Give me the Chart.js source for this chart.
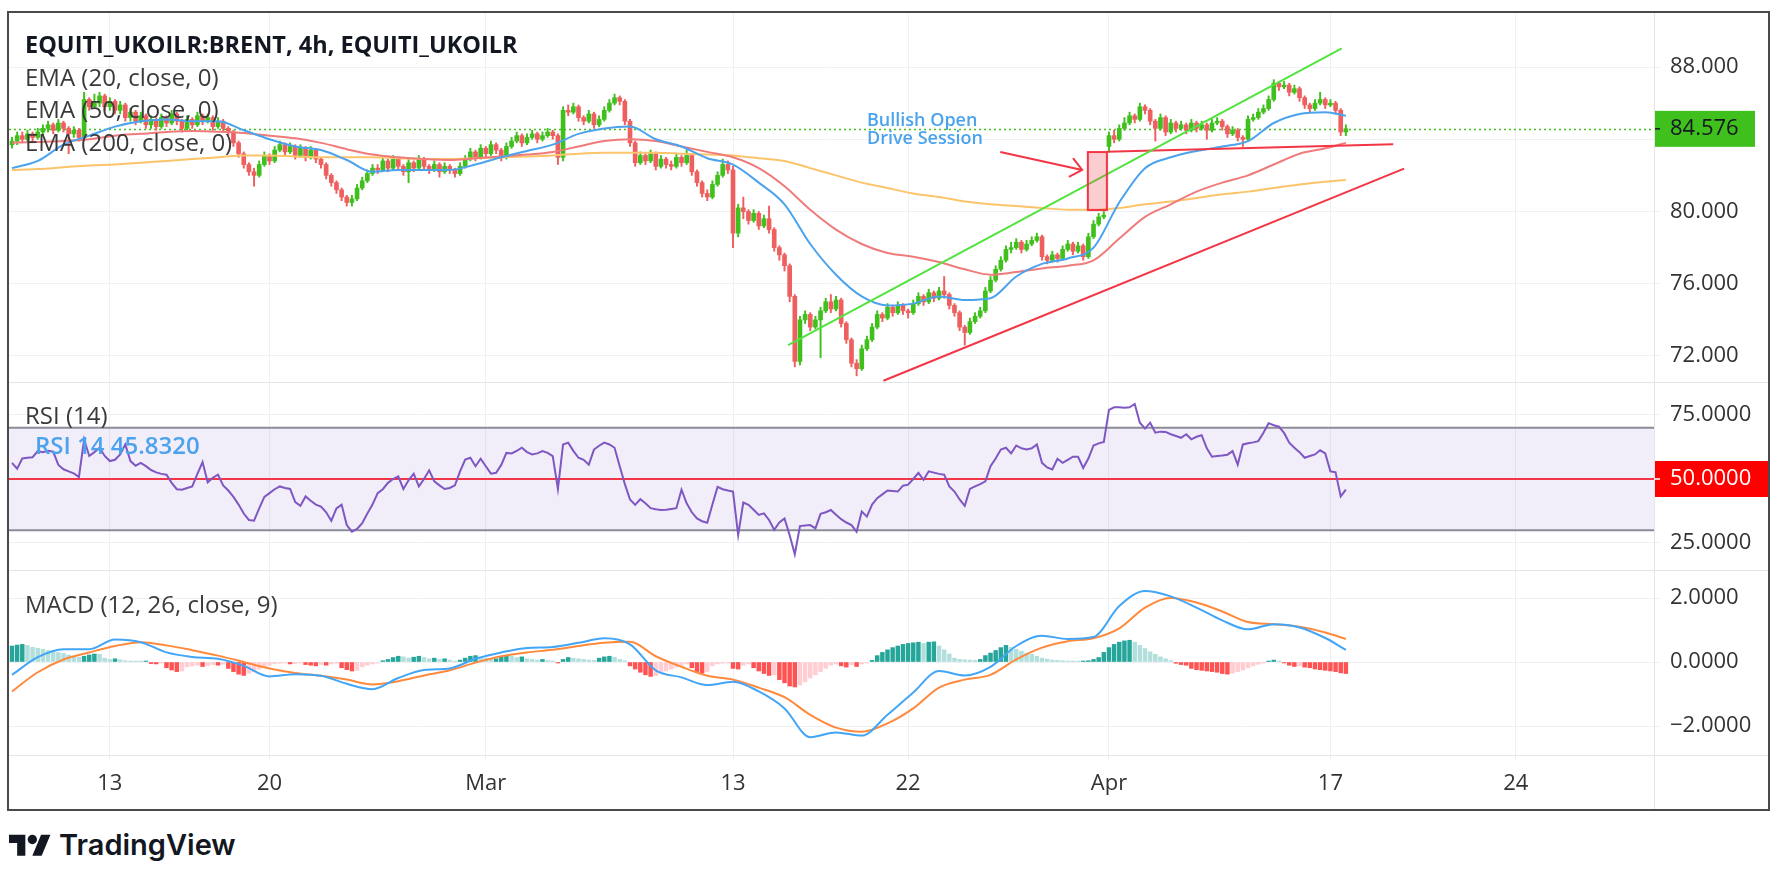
<!DOCTYPE html>
<html>
<head>
<meta charset="utf-8">
<script src="https://cdn.jsdelivr.net/npm/chart.js@4.4.0/dist/chart.umd.min.js"></script>
<style>
  html, body { margin: 0; padding: 0; background: #fff; }
  body { width: 1778px; height: 882px; position: relative; overflow: hidden; font-family: "Open Sans", sans-serif; }
  #frame { position: absolute; left: 7px; top: 11px; width: 1763px; height: 800px; border: 2px solid #4a4a4a; box-sizing: border-box; }
  canvas { position: absolute; }
  .sep { position: absolute; background: #e3e5ea; }
  .lbl { position: absolute; white-space: nowrap; font-size: 24px; line-height: 24px; color: #3a3a3a; }
</style>
</head>
<body>
<div id="frame"></div>
<canvas id="cPrice" width="1759" height="369" style="left:9px;top:13px"></canvas>
<canvas id="cRsi" width="1759" height="187" style="left:9px;top:383px"></canvas>
<canvas id="cMacd" width="1759" height="238" style="left:9px;top:571px"></canvas>
<div class="sep" style="left:9px;top:382px;width:1759px;height:1px"></div>
<div class="sep" style="left:9px;top:570px;width:1759px;height:1px"></div>
<div class="sep" style="left:9px;top:755px;width:1759px;height:1px"></div>
<div class="sep" style="left:1654px;top:13px;width:1px;height:796px"></div>

<div class="lbl" style="left:25px;top:32px;font-weight:700;color:#131722;font-size:23.5px">EQUITI_UKOILR:BRENT, 4h, EQUITI_UKOILR</div>
<div class="lbl" style="left:25px;top:65px">EMA (20, close, 0)</div>
<div class="lbl" style="left:25px;top:97px">EMA (50, close, 0)</div>
<div class="lbl" style="left:25px;top:130px">EMA (200, close, 0)</div>
<div class="lbl" style="left:25px;top:403px">RSI (14)</div>
<div class="lbl" style="left:35px;top:433px;color:#4ba3ee;font-weight:600">RSI 14 45.8320</div>
<div class="lbl" style="left:25px;top:592px">MACD (12, 26, close, 9)</div>
<div class="lbl" style="left:867px;top:110px;font-size:18px;line-height:18px;font-weight:600;color:#4ba3ee">Bullish Open<br>Drive Session</div>

<svg style="position:absolute;left:9px;top:830px" width="42" height="33" viewBox="0 0 36 28">
  <path fill="#131722" d="M14 22H7V11H0V4h14v18zM28 22h-8l7.5-18h8L28 22z"/>
  <circle fill="#131722" cx="20" cy="8" r="4"/>
</svg>
<div class="lbl" style="left:59px;top:828px;font-family:Inter,sans-serif;font-weight:600;font-size:29px;line-height:34px;color:#131722">TradingView</div>

<script>
// ---- axis data ----
const xTickIdx = [19, 50, 92, 140, 174, 213, 256, 292];
const xTickLabels = ['13', '20', 'Mar', '13', '22', 'Apr', '17', '24'];
const priceTicks = [72, 76, 80, 84, 88];
const rsiTicks = [25, 50, 75];
const macdTicks = [-2, 0, 2];
const lastPrice = 84.576;

// ---- 4h candles ----
const opens = [
83.7,83.9,84.2,84.0,84.3,84.1,84.4,84.6,84.8,84.5,
84.9,84.6,84.3,84.5,84.1,86.2,85.8,86.0,86.4,85.8,
86.1,85.6,85.9,85.2,85.5,85.0,85.3,84.8,85.1,84.7,
85.2,84.9,85.4,85.0,84.6,85.1,84.8,85.3,85.0,85.2,
84.7,85.0,84.6,84.4,83.8,83.2,82.6,82.2,82.0,82.6,
83.1,82.8,83.4,83.7,83.3,83.6,83.1,83.5,83.0,83.4,
82.9,82.6,82.0,81.6,81.2,80.8,80.5,80.7,81.3,81.7,
82.1,82.4,82.3,82.8,82.4,82.9,82.5,82.2,82.7,82.4,
82.9,82.5,82.3,82.6,82.2,82.5,82.3,82.1,82.5,82.9,
83.3,83.0,83.5,83.2,83.7,83.4,83.0,83.6,83.9,84.2,
83.8,84.1,84.3,84.0,84.2,84.4,84.2,83.0,85.6,85.5,
85.8,85.2,85.0,85.4,84.8,85.1,85.6,86.0,86.3,86.1,
85.0,83.8,82.7,83.1,82.8,83.2,82.5,82.9,82.6,82.5,
83.0,82.7,83.1,82.2,81.6,81.0,80.8,81.5,82.0,82.6,
82.3,78.8,80.2,80.0,79.5,79.9,79.2,79.6,79.0,78.0,
77.6,77.0,75.3,71.7,74.0,74.3,73.6,74.0,74.5,75.0,
74.6,75.1,73.8,72.9,71.6,71.3,72.4,72.9,73.6,74.3,
74.1,74.7,74.4,74.8,74.5,74.4,74.9,75.3,75.0,75.5,
75.2,75.6,75.4,74.8,74.4,73.6,73.3,73.9,74.2,74.5,
75.6,76.2,76.8,77.3,77.9,78.0,78.3,77.9,78.2,78.4,
78.6,77.5,77.3,77.6,77.4,77.9,78.2,77.8,78.1,77.5,
78.6,79.3,79.7,83.6,84.2,84.0,84.6,84.9,85.3,85.1,
85.8,85.6,85.0,84.6,85.2,84.4,84.9,84.6,84.8,84.5,
84.9,84.6,84.8,84.5,84.9,85.0,84.7,84.3,84.5,84.1,
84.0,85.1,85.2,85.5,85.7,86.2,87.1,86.9,87.0,86.6,
86.8,86.3,85.9,85.7,86.0,86.2,85.9,86.0,85.6,84.4
];
const highs = [
84.1,84.4,84.4,84.5,84.4,84.6,84.8,85.0,84.9,85.1,
85.0,84.7,84.7,84.6,86.6,86.3,86.5,86.6,86.5,86.3,
86.2,86.1,86.0,85.7,85.6,85.5,85.4,85.3,85.2,85.4,
85.3,85.6,85.5,85.1,85.3,85.2,85.5,85.4,85.4,85.3,
85.2,85.1,84.7,84.5,83.9,83.3,82.7,82.4,82.8,83.3,
83.2,83.6,83.9,83.8,83.8,83.7,83.7,83.6,83.6,83.5,
83.0,82.7,82.1,81.7,81.3,80.9,80.9,81.5,81.9,82.3,
82.6,82.6,83.0,82.9,83.1,83.0,82.6,82.9,82.8,83.1,
83.0,82.6,82.8,82.7,82.7,82.6,82.4,82.7,83.1,83.5,
83.4,83.7,83.6,83.9,83.8,83.5,83.8,84.1,84.4,84.3,
84.3,84.5,84.4,84.4,84.6,84.5,84.3,85.8,85.9,86.0,
85.9,85.3,85.6,85.5,85.3,85.8,86.2,86.5,86.4,86.2,
85.1,83.9,83.3,83.2,83.4,83.3,83.1,83.0,82.8,83.2,
83.1,83.4,83.2,82.3,81.7,81.2,81.7,82.2,82.9,82.8,
82.5,80.4,80.8,80.1,80.1,80.0,79.8,80.3,79.1,78.1,
77.7,77.1,75.4,74.2,74.5,74.4,74.2,74.7,75.2,75.4,
75.3,75.2,73.9,73.0,71.8,72.6,73.1,73.8,74.5,74.4,
74.9,74.8,75.0,74.9,74.6,75.1,75.5,75.4,75.7,75.6,
75.8,76.4,75.5,74.9,74.5,73.7,74.1,74.4,74.7,75.8,
76.4,77.0,77.5,78.1,78.3,78.5,78.4,78.4,78.6,78.8,
78.7,77.6,77.8,77.7,78.1,78.4,78.3,78.3,78.2,78.8,
79.5,79.9,80.0,84.4,84.5,84.8,85.2,85.5,85.4,86.0,
85.9,85.7,85.1,85.4,85.3,85.1,85.0,85.0,84.9,85.1,
85.0,85.0,84.9,85.1,85.2,85.1,84.8,84.7,84.6,84.2,
85.3,85.4,85.7,85.9,86.4,87.3,87.2,87.2,87.1,87.0,
86.9,86.4,86.0,86.2,86.6,86.3,86.2,86.1,85.7,84.8
];
const lows = [
83.5,83.7,83.8,83.9,83.9,84.0,84.2,84.4,84.3,84.4,
84.4,83.2,84.1,83.9,84.0,85.6,85.7,85.8,85.6,85.6,
85.4,85.4,85.0,85.0,84.8,84.9,84.6,84.6,84.5,84.6,
84.7,84.8,84.8,84.4,84.5,84.6,84.7,84.8,84.9,84.5,
84.6,84.4,84.2,83.6,83.0,82.4,82.0,81.4,81.9,82.5,
82.6,82.7,83.3,83.1,83.2,82.9,83.0,82.8,82.9,82.7,
82.4,81.8,81.4,81.0,80.6,80.3,80.3,80.6,81.2,81.6,
82.0,82.1,82.2,82.2,82.3,82.3,82.0,81.6,82.2,82.3,
82.3,82.1,82.2,81.9,82.1,82.1,81.9,82.0,82.4,82.8,
82.8,82.9,83.0,83.1,83.2,82.8,82.9,83.5,83.8,83.6,
83.7,84.0,83.8,83.9,84.1,84.0,82.6,82.8,85.3,85.4,
85.0,84.8,84.9,84.6,84.7,85.0,85.5,85.9,85.9,84.8,
83.6,82.5,82.6,82.6,82.7,82.3,82.4,82.4,82.3,82.4,
82.5,82.6,82.0,81.4,80.8,80.6,80.7,81.4,81.9,82.1,
78.0,78.6,79.6,79.3,79.4,79.0,79.1,78.8,77.8,77.3,
76.7,75.0,71.4,71.5,73.8,73.4,73.5,71.9,74.4,74.4,
74.5,73.6,72.7,71.4,70.9,71.2,72.3,72.8,73.5,73.9,
74.0,74.2,74.3,74.3,74.1,74.3,74.8,74.8,74.9,75.0,
75.1,75.2,74.6,74.2,73.4,72.6,73.2,73.8,74.1,74.4,
75.5,76.1,76.7,77.2,77.7,77.9,77.7,77.8,78.1,78.3,
77.3,77.1,77.2,77.2,77.3,77.8,77.6,77.7,77.3,77.4,
78.5,79.2,79.6,83.3,83.8,83.9,84.5,84.8,84.9,85.0,
85.4,84.8,83.9,84.5,84.2,84.3,84.4,84.5,84.3,84.4,
84.4,84.5,84.0,84.4,84.8,84.5,84.1,84.2,83.9,83.6,
83.9,85.0,85.1,85.4,85.6,86.1,86.7,86.8,86.4,86.5,
86.1,85.7,85.5,85.6,85.9,85.7,85.8,85.4,84.2,84.2
];
const closes = [
83.9,84.2,84.0,84.3,84.1,84.4,84.6,84.8,84.5,84.9,
84.6,84.3,84.5,84.1,86.2,85.8,86.0,86.4,85.8,86.1,
85.6,85.9,85.2,85.5,85.0,85.3,84.8,85.1,84.7,85.2,
84.9,85.4,85.0,84.6,85.1,84.8,85.3,85.0,85.2,84.7,
85.0,84.6,84.4,83.8,83.2,82.6,82.2,82.0,82.6,83.1,
82.8,83.4,83.7,83.3,83.6,83.1,83.5,83.0,83.4,82.9,
82.6,82.0,81.6,81.2,80.8,80.5,80.7,81.3,81.7,82.1,
82.4,82.3,82.8,82.4,82.9,82.5,82.2,82.7,82.4,82.9,
82.5,82.3,82.6,82.2,82.5,82.3,82.1,82.5,82.9,83.3,
83.0,83.5,83.2,83.7,83.4,83.0,83.6,83.9,84.2,83.8,
84.1,84.3,84.0,84.2,84.4,84.2,83.0,85.6,85.5,85.8,
85.2,85.0,85.4,84.8,85.1,85.6,86.0,86.3,86.1,85.0,
83.8,82.7,83.1,82.8,83.2,82.5,82.9,82.6,82.5,83.0,
82.7,83.1,82.2,81.6,81.0,80.8,81.5,82.0,82.6,82.3,
78.8,80.2,80.0,79.5,79.9,79.2,79.6,79.0,78.0,77.6,
77.0,75.3,71.7,74.0,74.3,73.6,74.0,74.5,75.0,74.6,
75.1,73.8,72.9,71.6,71.3,72.4,72.9,73.6,74.3,74.1,
74.7,74.4,74.8,74.5,74.4,74.9,75.3,75.0,75.5,75.2,
75.6,75.4,74.8,74.4,73.6,73.3,73.9,74.2,74.5,75.6,
76.2,76.8,77.3,77.9,78.0,78.3,77.9,78.2,78.4,78.6,
77.5,77.3,77.6,77.4,77.9,78.2,77.8,78.1,77.5,78.6,
79.3,79.7,79.8,84.2,84.0,84.6,84.9,85.3,85.1,85.8,
85.6,85.0,84.6,85.2,84.4,84.9,84.6,84.8,84.5,84.9,
84.6,84.8,84.5,84.9,85.0,84.7,84.3,84.5,84.1,84.0,
85.1,85.2,85.5,85.7,86.2,87.1,86.9,87.0,86.6,86.8,
86.3,85.9,85.7,86.0,86.2,85.9,86.0,85.6,84.4,84.58
];

// ---- moving averages, read every 5 bars ----
const emaIdx = [0,5,10,15,20,25,30,35,40,45,50,55,60,65,70,75,80,85,90,95,100,105,110,115,120,125,130,135,140,145,150,155,160,165,170,175,180,185,190,195,200,205,210,215,220,225,230,235,240,245,250,255,259];
const ema20 = [82.4,82.8,83.7,84.2,84.7,85.0,85.1,85.0,85.0,84.5,84.0,83.6,83.4,82.85,82.2,82.3,82.3,82.3,82.6,83.0,83.35,83.7,84.3,84.6,84.7,84.0,83.6,82.95,82.6,81.6,80.4,78.2,76.5,75.3,74.8,74.9,75.3,75.1,75.2,76.4,77.1,77.4,78.0,80.5,82.4,83.0,83.35,83.6,83.9,84.9,85.4,85.5,85.3];
const ema50 = [83.8,83.85,83.9,84.0,84.2,84.3,84.4,84.45,84.42,84.35,84.2,84.05,83.8,83.45,83.15,83.0,82.9,82.85,82.95,83.05,83.15,83.3,83.6,83.9,84.0,83.9,83.6,83.3,83.0,82.4,81.4,80.1,79.0,78.2,77.7,77.5,77.2,76.8,76.5,76.65,76.85,77.0,77.3,78.5,79.7,80.4,81.1,81.6,82.0,82.6,83.2,83.5,83.8];
const ema200 = [82.3,82.35,82.45,82.55,82.6,82.7,82.8,82.9,83.0,83.1,83.1,83.05,83.0,83.0,83.0,82.95,82.9,82.9,82.95,83.0,83.05,83.1,83.2,83.25,83.25,83.25,83.2,83.15,83.1,82.95,82.8,82.4,82.0,81.6,81.3,81.0,80.8,80.55,80.4,80.3,80.2,80.1,80.1,80.2,80.4,80.55,80.75,80.95,81.1,81.3,81.5,81.65,81.75];

// ---- RSI (14), one value per bar ----
const rsi = [
56.3,54.0,58.0,58.3,58.5,60.9,60.5,61.0,60.7,55.5,
53.8,53.0,52.2,50.8,65.5,59.0,60.5,62.2,59.0,57.0,
57.5,59.6,63.5,57.0,55.2,56.3,55.0,53.5,52.6,52.0,
51.7,48.5,46.0,45.8,46.5,47.1,52.0,56.6,48.7,50.5,
51.7,47.5,45.5,43.0,40.0,36.5,34.0,33.7,38.5,43.0,
44.5,46.0,47.1,46.5,46.1,41.0,39.5,43.2,41.5,40.0,
39.2,37.0,33.7,38.5,40.0,32.0,29.4,30.5,32.7,36.5,
40.0,44.5,46.0,48.5,50.0,51.0,46.1,49.5,52.1,47.1,
50.0,53.4,49.1,47.5,46.1,46.5,47.5,53.0,57.6,58.3,
55.0,57.9,55.0,52.1,52.4,55.5,60.2,60.0,61.0,62.2,
60.5,59.6,60.0,60.9,60.2,58.9,46.1,63.5,64.2,61.0,
58.3,57.5,55.6,61.5,63.0,64.2,63.5,62.2,55.0,48.0,
42.0,39.9,42.1,40.5,38.6,38.2,37.9,38.0,38.3,38.6,
45.8,40.5,37.0,34.6,33.5,32.9,40.0,46.9,46.0,45.5,
45.1,28.1,40.8,39.9,38.0,36.0,36.6,34.0,30.1,33.0,
34.6,28.0,20.6,31.6,31.8,32.0,30.7,36.4,37.0,37.9,
36.0,34.3,33.0,32.0,29.4,37.3,35.3,40.0,42.5,44.0,
45.5,45.3,45.1,47.4,47.8,50.0,52.4,49.7,53.0,52.5,
52.0,51.7,47.1,45.1,42.0,39.5,46.1,47.1,48.0,49.1,
55.0,58.0,61.5,62.2,60.0,63.1,62.0,61.5,62.0,63.5,
56.3,54.5,53.7,57.9,56.3,57.5,58.7,58.7,54.3,58.0,
63.1,63.9,64.5,77.0,78.0,78.0,77.8,78.0,79.3,72.0,
69.7,72.0,68.1,68.5,68.4,67.5,66.8,66.1,67.5,65.5,
66.5,67.1,62.0,58.7,59.0,59.2,59.5,60.9,55.6,63.5,
64.0,64.3,64.8,68.1,71.8,71.0,70.5,68.0,64.2,62.2,
60.5,58.3,59.0,59.6,61.2,60.0,53.0,52.6,43.2,45.83
];

// ---- MACD (12, 26, 9): lines read every 5 bars, histogram per bar ----
const macdLine = [-0.40,0.15,0.40,0.40,0.70,0.62,0.30,0.16,0.10,-0.12,-0.45,-0.38,-0.43,-0.68,-0.85,-0.50,-0.25,-0.20,0.10,0.30,0.44,0.47,0.60,0.74,0.55,-0.26,-0.48,-0.72,-0.62,-0.92,-1.45,-2.35,-2.20,-2.30,-1.65,-0.95,-0.28,-0.42,-0.15,0.50,0.82,0.72,0.78,1.75,2.22,2.05,1.70,1.30,1.02,1.18,1.08,0.75,0.38];
const signalLine = [-0.92,-0.32,0.08,0.30,0.50,0.62,0.52,0.37,0.20,0.0,-0.20,-0.34,-0.43,-0.55,-0.70,-0.60,-0.42,-0.26,-0.02,0.18,0.30,0.38,0.50,0.60,0.63,0.18,-0.15,-0.43,-0.55,-0.80,-1.10,-1.65,-2.05,-2.18,-1.92,-1.45,-0.80,-0.55,-0.40,0.08,0.45,0.65,0.74,1.05,1.70,2.00,1.86,1.58,1.25,1.18,1.10,0.92,0.72];
const hist = [
0.50,0.53,0.55,0.52,0.46,0.43,0.40,0.36,0.33,0.30,
0.27,0.22,0.18,0.15,0.18,0.22,0.25,0.24,0.12,0.08,
0.10,0.07,0.04,0.03,0.02,0.01,0.02,-0.05,-0.06,-0.03,
-0.18,-0.25,-0.30,-0.28,-0.15,-0.12,-0.10,-0.14,-0.12,-0.08,
-0.10,-0.07,-0.20,-0.30,-0.38,-0.42,-0.35,-0.30,-0.22,-0.15,
-0.10,-0.05,-0.04,-0.03,-0.06,-0.05,-0.02,-0.08,-0.10,-0.12,
-0.08,-0.10,-0.06,-0.04,-0.18,-0.24,-0.28,-0.26,-0.15,-0.10,
-0.06,-0.03,0.04,0.08,0.14,0.18,0.16,0.12,0.15,0.18,
0.14,0.10,0.12,0.08,0.10,0.06,0.03,0.06,0.12,0.18,
0.20,0.16,0.12,0.08,0.10,0.16,0.20,0.18,0.14,0.16,
0.10,0.08,0.06,0.08,0.05,0.03,-0.02,0.08,0.14,0.12,
0.10,0.08,0.06,0.05,0.12,0.16,0.18,0.15,0.08,0.04,
-0.12,-0.22,-0.32,-0.40,-0.45,-0.43,-0.35,-0.28,-0.22,-0.16,
-0.10,-0.06,-0.18,-0.30,-0.35,-0.30,-0.12,-0.06,-0.04,-0.03,
-0.20,-0.22,-0.10,-0.06,-0.18,-0.28,-0.36,-0.42,-0.40,-0.55,
-0.65,-0.75,-0.78,-0.72,-0.62,-0.50,-0.40,-0.30,-0.20,-0.10,
-0.06,-0.12,-0.16,-0.09,-0.14,-0.06,-0.03,0.05,0.20,0.30,
0.38,0.45,0.50,0.55,0.58,0.60,0.62,0.58,0.62,0.63,
0.50,0.38,0.25,0.12,0.08,0.07,0.06,0.05,0.08,0.20,
0.28,0.36,0.45,0.52,0.46,0.40,0.34,0.28,0.24,0.18,
0.12,0.09,0.06,0.05,0.04,0.03,0.02,0.01,0.01,0.04,
0.08,0.14,0.30,0.45,0.55,0.62,0.66,0.68,0.62,0.52,
0.42,0.32,0.24,0.16,0.10,0.04,-0.04,-0.08,-0.10,-0.20,
-0.24,-0.26,-0.28,-0.30,-0.32,-0.36,-0.38,-0.35,-0.30,-0.25,
-0.18,-0.12,-0.07,-0.03,0.02,0.06,0.03,-0.02,-0.10,-0.14,
-0.12,-0.16,-0.18,-0.22,-0.24,-0.26,-0.28,-0.30,-0.34,-0.36
];

// ---- chart drawings (bar index, price) ----
const channelTop = [[150.7, 72.6], [258.2, 89.03]];
const supportLine = [[169.2, 70.63], [270.3, 82.37]];
const gapLine = [[212.6, 83.31], [268.2, 83.72]];
const gapBox = [[208.9, 80.08], [212.6, 83.29]];
const arrowPath = [[191.9, 83.29], [207.8, 82.30]];

// ---- look ----
const upColor = '#3fc01c';
const downColor = '#ef5f5f';
const gridColor = '#eef0f3';
const textColor = '#333333';
const axisW = 114;
const xMin = -0.583, xMax = 318.83;

Chart.defaults.font.family = '"Open Sans", sans-serif';
Chart.defaults.font.size = 22;
Chart.defaults.color = textColor;

function xScale(showLabels) {
  return {
    type: 'linear', min: xMin, max: xMax, offset: false,
    afterBuildTicks: s => { s.ticks = xTickIdx.map(v => ({ value: v })); },
    afterFit: s => { s.height = showLabels ? 54 : 0; s.paddingLeft = 0; s.paddingRight = 0; },
    grid: { color: gridColor, drawTicks: showLabels, tickLength: 6, offset: false },
    border: { display: false },
    ticks: {
      display: showLabels, autoSkip: false, maxRotation: 0, padding: 10, color: textColor,
      font: { size: 22 },
      callback: (v, i) => xTickLabels[i]
    }
  };
}

function yScale(min, max, ticks, fmt) {
  return {
    position: 'right', min: min, max: max,
    afterBuildTicks: s => { s.ticks = ticks.map(v => ({ value: v })); },
    afterFit: s => { s.width = axisW; s.paddingTop = 0; s.paddingBottom = 0; },
    grid: { color: gridColor, tickLength: 6 },
    border: { display: false },
    ticks: { padding: 10, color: textColor, font: { size: 22 }, callback: fmt }
  };
}

const baseOptions = {
  responsive: false,
  animation: false,
  events: [],
  layout: { padding: 0 },
  plugins: { legend: { display: false }, tooltip: { enabled: false } }
};

function line(points, color, width, order) {
  return {
    type: 'line', data: points.map(p => ({ x: p[0], y: p[1] })),
    borderColor: color, borderWidth: width, pointRadius: 0, order: order
  };
}

function sampled(values, color, order) {
  return {
    type: 'line', data: emaIdx.map((x, k) => ({ x: x, y: values[k] })),
    borderColor: color, borderWidth: 2, pointRadius: 0, tension: 0.4,
    cubicInterpolationMode: 'monotone', order: order
  };
}

// ---- price pane ----
const candleColors = closes.map((c, i) => c >= opens[i] ? upColor : downColor);

const priceOverlay = {
  id: 'priceOverlay',
  beforeDatasetsDraw(chart) {
    const { ctx, chartArea: a, scales: { y } } = chart;
    const py = Math.round(y.getPixelForValue(lastPrice)) + 0.5;
    ctx.save();
    ctx.strokeStyle = upColor;
    ctx.lineWidth = 1.5;
    ctx.setLineDash([2, 3]);
    ctx.beginPath(); ctx.moveTo(a.left, py); ctx.lineTo(a.right, py); ctx.stroke();
    ctx.restore();
  },
  afterDatasetsDraw(chart) {
    const { ctx, chartArea: a, scales: { x, y } } = chart;
    ctx.save();
    ctx.beginPath(); ctx.rect(a.left, a.top, a.width, a.height); ctx.clip();
    // gap box
    const bx1 = x.getPixelForValue(gapBox[0][0]), bx2 = x.getPixelForValue(gapBox[1][0]);
    const by1 = y.getPixelForValue(gapBox[1][1]), by2 = y.getPixelForValue(gapBox[0][1]);
    ctx.fillStyle = 'rgba(242,54,69,0.25)';
    ctx.fillRect(bx1, by1, bx2 - bx1, by2 - by1);
    ctx.strokeStyle = '#f23645';
    ctx.lineWidth = 2;
    ctx.strokeRect(bx1, by1, bx2 - bx1, by2 - by1);
    // arrow
    const ax1 = x.getPixelForValue(arrowPath[0][0]), ay1 = y.getPixelForValue(arrowPath[0][1]);
    const ax2 = x.getPixelForValue(arrowPath[1][0]), ay2 = y.getPixelForValue(arrowPath[1][1]);
    const ang = Math.atan2(ay2 - ay1, ax2 - ax1);
    ctx.beginPath();
    ctx.moveTo(ax1, ay1); ctx.lineTo(ax2, ay2);
    ctx.moveTo(ax2 - 15 * Math.cos(ang - 0.7), ay2 - 15 * Math.sin(ang - 0.7));
    ctx.lineTo(ax2, ay2);
    ctx.lineTo(ax2 - 15 * Math.cos(ang + 0.7), ay2 - 15 * Math.sin(ang + 0.7));
    ctx.stroke();
    ctx.restore();
  },
  afterDraw(chart) {
    const { ctx, chartArea: a, scales: { y } } = chart;
    const py = y.getPixelForValue(lastPrice);
    ctx.save();
    ctx.fillStyle = upColor;
    ctx.fillRect(a.right, py - 18, 101, 36);
    ctx.strokeStyle = '#131722';
    ctx.lineWidth = 1.5;
    ctx.beginPath(); ctx.moveTo(a.right, py); ctx.lineTo(a.right + 6, py); ctx.stroke();
    ctx.fillStyle = '#131722';
    ctx.font = '22px "Open Sans", sans-serif';
    ctx.textBaseline = 'middle';
    ctx.fillText(lastPrice.toFixed(3), a.right + 16, py);
    ctx.restore();
  }
};

new Chart(document.getElementById('cPrice'), {
  type: 'bar',
  data: {
    datasets: [
      {
        data: closes.map((c, i) => ({ x: i, y: [lows[i], highs[i]] })),
        backgroundColor: candleColors, barThickness: 1.3, grouped: false, order: 10
      },
      {
        data: closes.map((c, i) => ({ x: i, y: [opens[i], c] })),
        backgroundColor: candleColors, barThickness: 4, minBarLength: 1, grouped: false, order: 9
      },
      sampled(ema200, '#fcc46a', 6),
      sampled(ema50, '#f07b7b', 5),
      sampled(ema20, '#4ba3ee', 4),
      line(channelTop, '#52e33f', 2, 1),
      line(supportLine, '#f23645', 2, 1),
      line(gapLine, '#f23645', 2, 1)
    ]
  },
  options: Object.assign({}, baseOptions, {
    scales: {
      x: xScale(false),
      y: yScale(70.56, 90.99, priceTicks, v => v === 84 ? '' : v.toFixed(3))
    }
  }),
  plugins: [priceOverlay]
});

// ---- RSI pane ----
const rsiBand = {
  id: 'rsiBand',
  beforeDatasetsDraw(chart) {
    const { ctx, chartArea: a, scales: { y } } = chart;
    const y70 = y.getPixelForValue(70), y30 = y.getPixelForValue(30), y50 = y.getPixelForValue(50);
    ctx.save();
    ctx.fillStyle = 'rgba(126,87,194,0.1)';
    ctx.fillRect(a.left, y70, a.width, y30 - y70);
    ctx.strokeStyle = '#8a8d96';
    ctx.lineWidth = 2;
    ctx.beginPath();
    ctx.moveTo(a.left, y70); ctx.lineTo(a.right, y70);
    ctx.moveTo(a.left, y30); ctx.lineTo(a.right, y30);
    ctx.stroke();
    ctx.strokeStyle = '#f23645';
    ctx.beginPath(); ctx.moveTo(a.left, y50); ctx.lineTo(a.right, y50); ctx.stroke();
    ctx.restore();
  },
  afterDraw(chart) {
    const { ctx, chartArea: a, scales: { y } } = chart;
    const py = y.getPixelForValue(50);
    ctx.save();
    ctx.fillStyle = '#ff0000';
    ctx.fillRect(a.right, py - 18, chart.width - a.right, 36);
    ctx.fillStyle = '#ffffff';
    ctx.fillRect(a.right, py - 0.75, 6, 1.5);
    ctx.font = '22px "Open Sans", sans-serif';
    ctx.textBaseline = 'middle';
    ctx.fillText('50.0000', a.right + 16, py);
    ctx.restore();
  }
};

new Chart(document.getElementById('cRsi'), {
  type: 'line',
  data: {
    datasets: [{
      data: rsi.map((v, i) => ({ x: i, y: v })),
      borderColor: '#7e57c2', borderWidth: 2, pointRadius: 0
    }]
  },
  options: Object.assign({}, baseOptions, {
    scales: {
      x: xScale(false),
      y: yScale(14.45, 87.5, rsiTicks, v => v === 50 ? '' : v.toFixed(4))
    }
  }),
  plugins: [rsiBand]
});

// ---- MACD pane ----
const histColors = hist.map((h, i) => {
  const prev = i > 0 ? hist[i - 1] : h;
  if (h >= 0) return h >= prev ? '#26a69a' : '#b2dfdb';
  return h < prev ? '#ff5252' : '#ffcdd2';
});

new Chart(document.getElementById('cMacd'), {
  type: 'bar',
  data: {
    datasets: [
      {
        data: hist.map((h, i) => ({ x: i, y: h })),
        backgroundColor: histColors, barThickness: 3.8, minBarLength: 1, grouped: false, order: 5
      },
      {
        type: 'line', data: emaIdx.map((x, k) => ({ x: x, y: signalLine[k] })),
        borderColor: '#ff8a3d', borderWidth: 2, pointRadius: 0, tension: 0.4,
        cubicInterpolationMode: 'monotone', order: 2
      },
      {
        type: 'line', data: emaIdx.map((x, k) => ({ x: x, y: macdLine[k] })),
        borderColor: '#42a5f5', borderWidth: 2, pointRadius: 0, tension: 0.4,
        cubicInterpolationMode: 'monotone', order: 1
      }
    ]
  },
  options: Object.assign({}, baseOptions, {
    scales: {
      x: xScale(true),
      y: yScale(-2.906, 2.844, macdTicks, v => (v < 0 ? '\u2212' : '') + Math.abs(v).toFixed(4))
    }
  })
});
</script>
</body>
</html>
